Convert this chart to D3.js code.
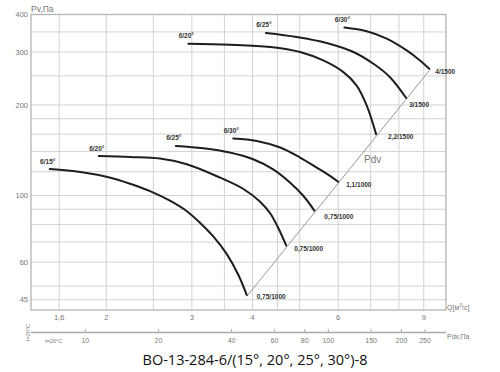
<!DOCTYPE html>
<html>
<head>
<meta charset="utf-8">
<script src="https://cdn.jsdelivr.net/npm/d3@7"></script>
<style>
  html, body { margin: 0; padding: 0; background: #fff; }
  svg { display: block; }
</style>
</head>
<body>
<div id="chart"></div>
<script>
// Fan curves BO-13-284-6, Pv vs Q (log-log), two speeds
const qGrid = [1.6, 2, 2.5, 3, 3.5, 4, 4.5, 5, 6, 7, 8, 9];
const qTicks = [1.6, 2, 3, 4, 6, 9];
const qTickLabels = ['1,6', '2', '3', '4', '6', '9'];
const pvGrid = [45, 50, 60, 70, 80, 90, 100, 120, 140, 160, 180, 200, 250, 300, 350, 400];
const pvTicks = [45, 60, 100, 200, 300, 400];
const pdvTicks = [10, 20, 40, 60, 80, 100, 150, 200, 250];
const pdvCoef = 3.05; // Pdv = coef * Q^2

const bladeLabels = ['6/15°', '6/20°', '6/25°', '6/30°', '6/20°', '6/25°', '6/30°'];
const motorLabels = ['0,75/1000', '0,75/1000', '0,75/1000', '1,1/1000', '2,2/1500', '3/1500', '4/1500'];

// [Q m3/s, Pv Pa]
const curve15Low = [[1.53, 122.4], [1.77, 119.7], [2.04, 114.6], [2.24, 109.4], [2.46, 103.4], [2.71, 95.9],
  [2.93, 88.6], [3.12, 81.0], [3.32, 73.1], [3.54, 63.8], [3.74, 54.4], [3.89, 46.7]];
const curve20Low = [[1.93, 135.3], [2.24, 134.3], [2.58, 132.7], [2.93, 127.0], [3.43, 114.6], [3.83, 105.1],
  [4.14, 95.5], [4.35, 87.1], [4.52, 77.8], [4.69, 68.2]];
const curve25Low = [[2.78, 146.2], [3.17, 143.6], [3.59, 139.0], [4.01, 132.0], [4.41, 122.2], [4.78, 110.3],
  [5.09, 99.6], [5.36, 89.1]];
const curve30Low = [[3.65, 154.7], [4.08, 151.9], [4.56, 144.4], [5.01, 133.7], [5.42, 123.8], [5.77, 116.2], [6.00, 111.1]];
const curve20High = [[2.95, 319.9], [3.59, 317.5], [4.35, 311.9], [5.01, 300.1], [5.59, 281.3], [6.15, 257.3],
  [6.55, 232.1], [6.87, 198.9], [7.18, 160.0]];
const curve25High = [[4.26, 347.4], [4.93, 336.9], [5.68, 321.7], [6.45, 300.1], [7.09, 274.2], [7.67, 247.5], [8.28, 211.0]];
const curve30High = [[6.18, 361.9], [6.87, 351.8], [7.55, 332.5], [8.30, 303.8], [8.84, 281.3], [9.24, 263.8]];

const curves = [curve15Low, curve20Low, curve25Low, curve30Low, curve20High, curve25High, curve30High];

const width = 500;
const height = 372;
const plot = { left: 31, right: 446, top: 14.5, bottom: 310 };

const svg = d3.select('#chart').append('svg')
  .attr('width', width)
  .attr('height', height);

svg.append('rect').attr('width', width).attr('height', height).attr('fill', '#fff');

const x = d3.scaleLog().domain([1.4, 10]).range([plot.left, plot.right]);
const y = d3.scaleLog().domain([41.6, 400]).range([plot.bottom, plot.top]);
const xPdv = d3.scaleLog().domain([pdvCoef * 1.4 * 1.4, pdvCoef * 100]).range([plot.left, plot.right]);

const font = "'Liberation Sans', Arial, sans-serif";
const grey = '#777';

// Grid
const grid = svg.append('g').attr('stroke', '#d2d2d2').attr('stroke-width', 1);
qGrid.forEach(q => {
  grid.append('line')
    .attr('x1', x(q)).attr('x2', x(q))
    .attr('y1', plot.top).attr('y2', plot.bottom);
});
pvGrid.forEach(p => {
  grid.append('line')
    .attr('x1', plot.left).attr('x2', plot.right)
    .attr('y1', y(p)).attr('y2', y(p));
});

// Frame
svg.append('rect')
  .attr('x', plot.left).attr('y', plot.top)
  .attr('width', plot.right - plot.left).attr('height', plot.bottom - plot.top)
  .attr('fill', 'none').attr('stroke', '#b4b4b4').attr('stroke-width', 1.3);

// Y tick labels
svg.append('g').selectAll('text').data(pvTicks).join('text')
  .attr('x', plot.left - 3).attr('y', d => y(d))
  .attr('dy', '0.35em').attr('text-anchor', 'end')
  .attr('font-family', font).attr('font-size', 7.5).attr('fill', grey)
  .text(d => d);

svg.append('text')
  .attr('x', plot.left).attr('y', 12)
  .attr('font-family', font).attr('font-size', 8.5).attr('fill', grey)
  .text('Pv,Па');

// Q tick labels
svg.append('g').selectAll('text').data(qTicks).join('text')
  .attr('x', d => x(d)).attr('y', 317.5)
  .attr('dy', '0.35em').attr('text-anchor', 'middle')
  .attr('font-family', font).attr('font-size', 7.5).attr('fill', grey)
  .text((d, i) => qTickLabels[i]);

const qTitle = svg.append('text')
  .attr('x', plot.right + 1).attr('y', 309.5)
  .attr('font-family', font).attr('font-size', 7).attr('fill', grey);
qTitle.append('tspan').text('Q[м');
qTitle.append('tspan').attr('dy', -3).attr('font-size', 5).text('3');
qTitle.append('tspan').attr('dy', 3).text('/с]');

// Pdv axis
const pdvY = 332.5;
svg.append('line')
  .attr('x1', plot.left).attr('x2', plot.right)
  .attr('y1', pdvY).attr('y2', pdvY)
  .attr('stroke', '#aaa').attr('stroke-width', 1.5);
svg.append('g').selectAll('line').data(pdvTicks).join('line')
  .attr('x1', d => xPdv(d)).attr('x2', d => xPdv(d))
  .attr('y1', pdvY - 3.5).attr('y2', pdvY)
  .attr('stroke', '#aaa').attr('stroke-width', 1);
svg.append('g').selectAll('text').data(pdvTicks).join('text')
  .attr('x', d => xPdv(d)).attr('y', 341)
  .attr('dy', '0.35em').attr('text-anchor', 'middle')
  .attr('font-family', font).attr('font-size', 7).attr('fill', grey)
  .text(d => d);
svg.append('text')
  .attr('x', plot.right + 1).attr('y', 338.5)
  .attr('font-family', font).attr('font-size', 7).attr('fill', grey)
  .text('Pdv,Па');
svg.append('text')
  .attr('x', 45).attr('y', 343)
  .attr('font-family', font).attr('font-size', 5.6).attr('fill', grey)
  .text('t=20°C');
svg.append('text')
  .attr('transform', `translate(29.5, ${pdvY}) rotate(-90)`)
  .attr('text-anchor', 'middle')
  .attr('font-family', font).attr('font-size', 5.6).attr('fill', grey)
  .text('t=20°C');

// Dynamic pressure line through curve ends
const qFrom = curve15Low[curve15Low.length - 1][0];
const qTo = curve30High[curve30High.length - 1][0];
svg.append('line')
  .attr('x1', x(qFrom)).attr('y1', y(pdvCoef * qFrom * qFrom))
  .attr('x2', x(qTo)).attr('y2', y(pdvCoef * qTo * qTo))
  .attr('stroke', '#999').attr('stroke-width', 1);
svg.append('text')
  .attr('x', 364).attr('y', 163)
  .attr('font-family', font).attr('font-size', 10).attr('fill', '#777')
  .text('Pdv');

// Curves
const line = d3.line()
  .x(d => x(d[0]))
  .y(d => y(d[1]))
  .curve(d3.curveCatmullRom.alpha(0.5));

svg.append('g').selectAll('path').data(curves).join('path')
  .attr('d', line)
  .attr('fill', 'none')
  .attr('stroke', '#1e1e1e')
  .attr('stroke-width', 2)
  .attr('stroke-linecap', 'round');

// Blade angle labels above curve starts
svg.append('g').selectAll('text').data(curves).join('text')
  .attr('x', d => x(d[0][0]) - 2)
  .attr('y', d => y(d[0][1]) - 5.5)
  .attr('text-anchor', 'middle')
  .attr('font-family', font).attr('font-size', 6.5).attr('font-weight', 'bold').attr('fill', '#333')
  .text((d, i) => bladeLabels[i]);

// Motor labels at curve ends
const motorOffset = [[10, 4], [8, 6], [10, 8], [8, 5], [12, 5], [3, 9], [6, 5.5]];
svg.append('g').selectAll('text').data(curves).join('text')
  .attr('x', (d, i) => x(d[d.length - 1][0]) + motorOffset[i][0])
  .attr('y', (d, i) => y(d[d.length - 1][1]) + motorOffset[i][1])
  .attr('font-family', font).attr('font-size', 6.5).attr('font-weight', 'bold').attr('fill', '#333')
  .text((d, i) => motorLabels[i]);

// Title
svg.append('text')
  .attr('x', 255).attr('y', 364.5)
  .attr('text-anchor', 'middle')
  .attr('font-family', "'Open Sans', Lato, sans-serif")
  .attr('font-size', 14.5).attr('fill', '#111')
  .text('ВО-13-284-6/(15°, 20°, 25°, 30°)-8');
</script>
</body>
</html>
